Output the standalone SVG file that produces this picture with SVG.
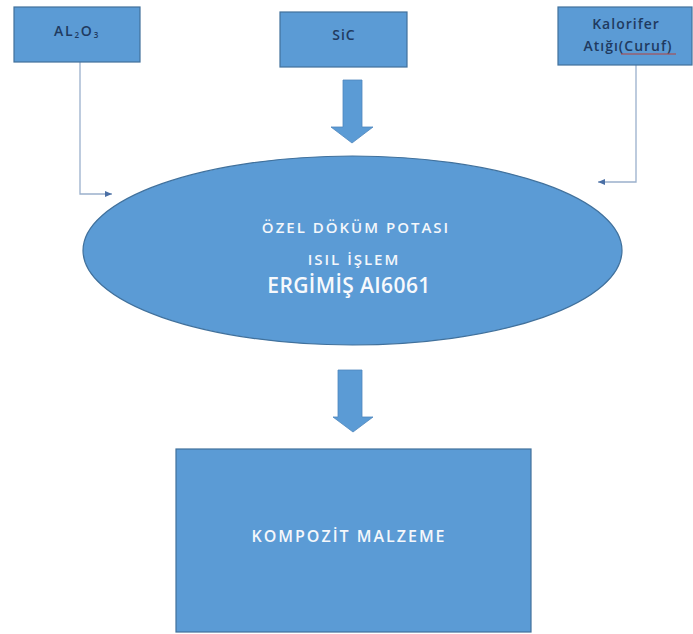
<svg xmlns="http://www.w3.org/2000/svg" width="693" height="634" viewBox="0 0 693 634">
<defs>
<style>
.box{fill:#5B9BD5;stroke:#41719C;stroke-width:1.2}
.lbl{font-family:"Open Sans","Noto Sans","Liberation Sans",sans-serif;font-weight:600;fill:#1F3A60;text-anchor:middle;font-size:14px;letter-spacing:1px}
.wl{font-family:"Open Sans","Noto Sans","Liberation Sans",sans-serif;font-weight:600;fill:#F4F7FB;text-anchor:middle;font-size:15px;letter-spacing:2px}
.big{font-family:"Open Sans","Noto Sans","Liberation Sans",sans-serif;font-weight:600;fill:#F7F9FC;text-anchor:middle;font-size:21px;letter-spacing:0.4px}
.conn{fill:none;stroke:#9AB0CC;stroke-width:1.3}
.blk{fill:#5B9BD5;stroke:#4F86BC;stroke-width:0.8}
</style>
<marker id="ah" markerWidth="8" markerHeight="8" refX="7" refY="4" orient="auto" markerUnits="userSpaceOnUse">
<path d="M0,1 L7,4 L0,7 Z" fill="#4A6FA5"/>
</marker>
</defs>
<rect width="693" height="634" fill="#FFFFFF"/>
<g id="connectors">
<path class="conn" d="M80,62 V194 H112" marker-end="url(#ah)"/>
<path class="conn" d="M636,65 V182 H598" marker-end="url(#ah)"/>
<path class="blk" d="M343,80 H362 V127 H373 L352,143 L331,127 H343 Z"/>
<path class="blk" d="M338,370 H362 V417 H373 L353,432 L333,417 H338 Z"/>
</g>
<g id="al2o3">
<rect class="box" x="14" y="7" width="126" height="55"/>
<text class="lbl" x="77" y="36" style="letter-spacing:1.8px">AL<tspan font-size="8" dy="2">2</tspan><tspan dy="-2">O</tspan><tspan font-size="8" dy="2">3</tspan></text>
</g>
<g id="sic">
<rect class="box" x="280" y="12" width="127" height="55"/>
<text class="lbl" x="344" y="40">SiC</text>
</g>
<g id="kalorifer">
<rect class="box" x="558" y="7" width="134" height="58"/>
<text class="lbl" x="626" y="29">Kalorifer</text>
<text class="lbl" x="628" y="51">Atığı(Curuf)</text>
<path d="M621,54 H676" stroke="#C0392B" stroke-width="0.9" fill="none"/>
</g>
<g id="pota">
<ellipse class="box" cx="352.5" cy="250.5" rx="269.5" ry="94.5"/>
<text class="wl" x="356" y="233">ÖZEL DÖKÜM POTASI</text>
<text class="wl" x="354" y="265">ISIL İŞLEM</text>
<text class="big" x="349" y="293">ERGİMİŞ AI6061</text>
</g>
<g id="kompozit">
<rect class="box" x="176" y="449" width="355" height="183"/>
<text class="wl" x="349" y="542" style="font-size:16px;letter-spacing:2px">KOMPOZİT MALZEME</text>
</g>
</svg>
